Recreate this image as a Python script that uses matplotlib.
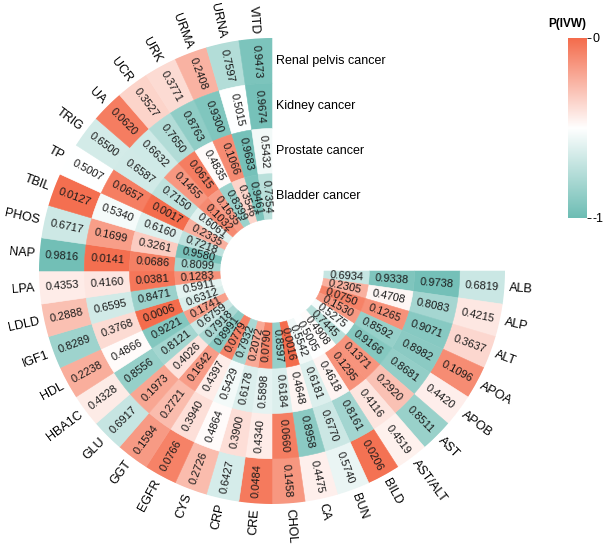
import numpy as np
import matplotlib
matplotlib.use("Agg")
import matplotlib.pyplot as plt
from matplotlib.colors import LinearSegmentedColormap, Normalize

plt.rcParams['font.family'] = ['Liberation Sans', 'DejaVu Sans']

# exposures, clockwise from 3 o'clock
exposures = ["ALB", "ALP", "ALT", "APOA", "APOB", "AST", "AST/ALT", "BILD", "BUN", "CA",
             "CHOL", "CRE", "CRP", "CYS", "EGFR", "GGT", "GLU", "HBA1C", "HDL", "IGF1",
             "LDLD", "LPA", "NAP", "PHOS", "TBIL", "TP", "TRIG", "UA", "UCR", "URK",
             "URMA", "URNA", "VITD"]

# P(IVW) per outcome (outer ring first)
renal_pelvis = [0.6819, 0.4215, 0.3637, 0.1096, 0.4420, 0.8511, 0.4519, 0.0206, 0.5740, 0.4475,
                0.1458, 0.0484, 0.6427, 0.2726, 0.0766, 0.1594, 0.6917, 0.4328, 0.2238, 0.8289,
                0.2888, 0.4353, 0.9816, 0.6717, 0.0127, 0.5007, 0.6500, 0.0620, 0.3527, 0.3771,
                0.2408, 0.7597, 0.9473]
kidney = [0.9738, 0.8083, 0.9071, 0.8982, 0.8681, 0.2920, 0.4116, 0.8161, 0.6770, 0.8958,
          0.0660, 0.4340, 0.3900, 0.4864, 0.3940, 0.2721, 0.1973, 0.8556, 0.4866, 0.3768,
          0.6595, 0.4160, 0.0141, 0.1699, 0.5340, 0.0657, 0.6587, 0.6632, 0.7650, 0.8763,
          0.9300, 0.5015, 0.9674]
prostate = [0.9338, 0.4708, 0.1265, 0.8592, 0.9166, 0.1371, 0.1295, 0.4618, 0.6181, 0.4648,
            0.6184, 0.5898, 0.6178, 0.5429, 0.4397, 0.1642, 0.4026, 0.8121, 0.9221, 0.0006,
            0.8471, 0.0381, 0.0686, 0.3261, 0.6160, 0.0017, 0.7150, 0.1455, 0.0615, 0.4835,
            0.1066, 0.9683, 0.5432]
bladder = [0.6934, 0.2305, 0.0750, 0.1530, 0.5275, 0.7445, 0.4908, 0.5005, 0.5542, 0.0016,
           0.8597, 0.0790, 0.2072, 0.7932, 0.0779, 0.8991, 0.7918, 0.6759, 0.1741, 0.6312,
           0.5911, 0.1283, 0.8099, 0.9580, 0.7218, 0.2335, 0.6061, 0.1032, 0.1635, 0.8399,
           0.3546, 0.9461, 0.7354]

tracks = ["Renal pelvis cancer", "Kidney cancer", "Prostate cancer", "Bladder cancer"]
track_vals = [renal_pelvis, kidney, prostate, bladder]

W, H = 603, 550
cx, cy = 272, 279          # circle centre in pixels (from bottom)
r_out, r_in = 233, 52
ring_w = (r_out - r_in) / 4.0
n = len(exposures)
step = np.deg2rad(270.0 / n)

cmap = LinearSegmentedColormap.from_list("pv", ["#6dbdb4", "#ffffff", "#f46c4c"])
norm = Normalize(vmin=-1, vmax=0)

fig = plt.figure(figsize=(W / 100, H / 100), dpi=100)
ax = fig.add_axes([(cx - r_out) / W, (cy - r_out) / H, 2 * r_out / W, 2 * r_out / H],
                  projection="polar")
ax.set_theta_zero_location("E")
ax.set_theta_direction(-1)
ax.set_ylim(0, r_out)
ax.axis("off")

theta = (np.arange(n) + 0.5) * step

def text_rot(th):
    a = (-np.rad2deg(th)) % 360
    if 90 < a < 270:
        return a - 180, True
    return (a if a <= 180 else a - 360), False

for k, vals in enumerate(track_vals):
    vals = np.asarray(vals)
    bottom = r_out - (k + 1) * ring_w
    cols = cmap(norm(-vals))
    ax.bar(theta, ring_w, width=step, bottom=bottom, color=cols,
           edgecolor=cols, linewidth=0.4, align="center")
    rmid = bottom + ring_w / 2
    for th, v in zip(theta, vals):
        rot, _ = text_rot(th)
        ax.text(th, rmid, "%.4f" % v, rotation=rot, rotation_mode="anchor",
                ha="center", va="center", fontsize=8, color="#1a1a1a")
    ax.annotate(tracks[k], xy=(np.deg2rad(270), rmid), xytext=(3, 0),
                textcoords="offset points", ha="left", va="center", fontsize=9)

for th, lab in zip(theta, exposures):
    rot, flip = text_rot(th)
    ax.text(th, r_out + 5, lab, rotation=rot, rotation_mode="anchor",
            ha="right" if flip else "left", va="center", fontsize=9)

# colour legend
cax = fig.add_axes([568 / W, 1 - 218 / H, 19 / W, 180 / H])
grad = np.linspace(-1, 0, 256).reshape(-1, 1)
cax.imshow(grad, aspect="auto", cmap=cmap, norm=norm, origin="lower", extent=[0, 1, -1, 0])
cax.set_xticks([])
cax.yaxis.tick_right()
cax.set_yticks([-1, 0])
cax.set_yticklabels(["-1", "0"], fontsize=9)
cax.tick_params(axis="y", length=3, width=0.6, pad=1)
for s in cax.spines.values():
    s.set_visible(False)
fig.text(567 / W, 1 - 24 / H, "P(IVW)", ha="center", va="center", fontsize=8.5, fontweight="bold")

fig.savefig("out.png", dpi=100)
